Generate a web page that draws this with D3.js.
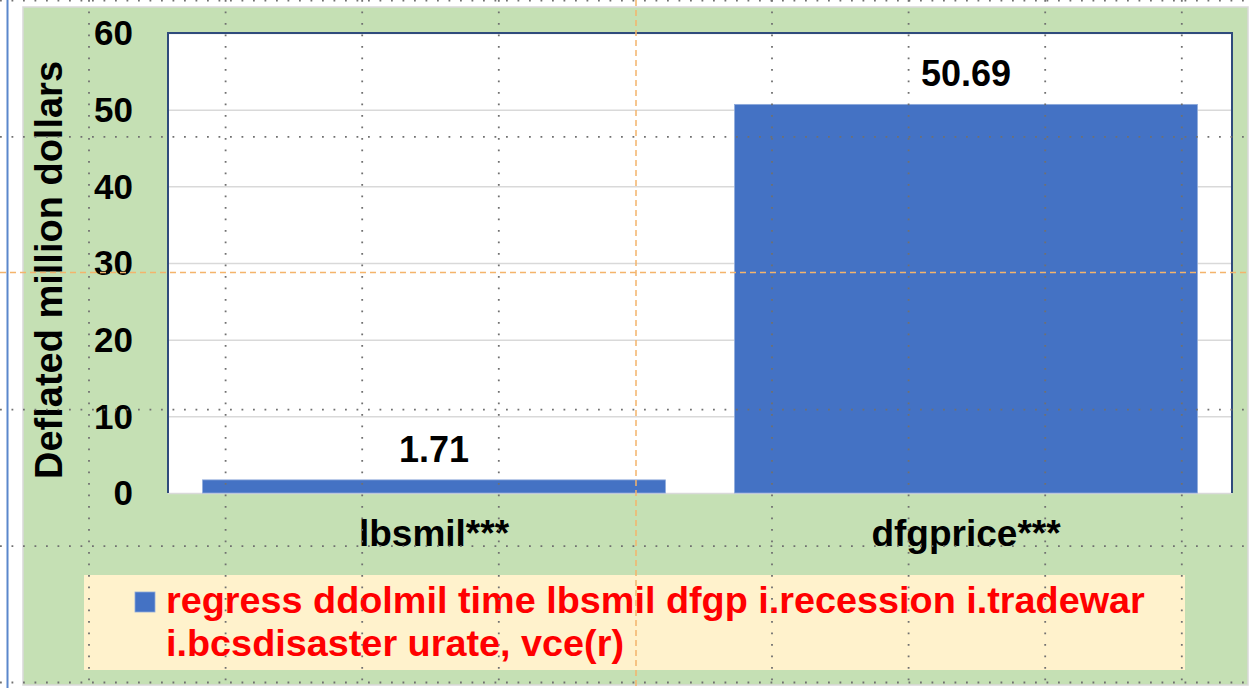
<!DOCTYPE html>
<html>
<head>
<meta charset="utf-8">
<script src="https://cdn.jsdelivr.net/npm/d3@7"></script>
<style>
  html, body { margin: 0; padding: 0; background: #ffffff; }
  svg { display: block; }
  text { font-family: "Liberation Sans", Arial, sans-serif; font-weight: bold; }
</style>
</head>
<body>
<script>
// ---- data ----
const categories = ["lbsmil***", "dfgprice***"];
const values = [1.71, 50.69];
const valueLabels = ["1.71", "50.69"];
const yTicks = [0, 10, 20, 30, 40, 50, 60];
const yTitle = "Deflated million dollars";
const legendLines = ["regress ddolmil time lbsmil dfgp i.recession i.tradewar", "i.bcsdisaster urate, vce(r)"];

// ---- layout ----
const W = 1250, H = 688;
const plot = { left: 168, top: 33, right: 1232, bottom: 493 };

const svg = d3.select("body").append("svg").attr("width", W).attr("height", H);

// outer chart area
svg.append("rect").attr("x", 7).attr("y", 0).attr("width", W - 7).attr("height", H).attr("fill", "#ffffff");
svg.append("line").attr("x1", 7.5).attr("x2", 7.5).attr("y1", 0).attr("y2", H)
  .attr("stroke", "#5b87cc").attr("stroke-width", 2);
svg.append("rect").attr("x", 23).attr("y", 7).attr("width", 1225).attr("height", 678)
  .attr("fill", "#c5e0b4").attr("stroke", "#d9d9d9").attr("stroke-width", 1.5);

// plot area
svg.append("rect").attr("x", plot.left).attr("y", plot.top)
  .attr("width", plot.right - plot.left).attr("height", plot.bottom - plot.top)
  .attr("fill", "#ffffff");

const x = d3.scaleBand().domain(categories).range([plot.left, plot.right]).paddingInner(0.13).paddingOuter(0.065);
const y = d3.scaleLinear().domain([0, 60]).range([plot.bottom, plot.top]);

// gridlines
svg.append("g").selectAll("line").data(yTicks).join("line")
  .attr("x1", plot.left).attr("x2", plot.right)
  .attr("y1", d => y(d) + 0.5).attr("y2", d => y(d) + 0.5)
  .attr("stroke", "#d9d9d9").attr("stroke-width", 1.5);

// bars
svg.append("g").selectAll("rect").data(values).join("rect")
  .attr("x", (d, i) => x(categories[i]))
  .attr("width", x.bandwidth())
  .attr("y", d => y(d))
  .attr("height", d => y(0) - y(d))
  .attr("fill", "#4472c4")
  .attr("stroke", "#8eaadb").attr("stroke-width", 0.8);

// plot border (left, top, right)
svg.append("path")
  .attr("d", `M${plot.left},${plot.bottom}V${plot.top}H${plot.right}V${plot.bottom}`)
  .attr("fill", "none").attr("stroke", "#2f4b7c").attr("stroke-width", 2);

// value labels
svg.append("g").selectAll("text").data(values).join("text")
  .attr("x", (d, i) => x(categories[i]) + x.bandwidth() / 2)
  .attr("y", d => y(d) - 18)
  .attr("text-anchor", "middle")
  .attr("font-size", 36)
  .attr("fill", "#000")
  .text((d, i) => valueLabels[i]);

// y axis
const yAxis = d3.axisLeft(y).tickValues(yTicks).tickSize(0).tickPadding(0).tickFormat(d3.format("d"));
const gy = svg.append("g").attr("transform", `translate(133,0)`).call(yAxis);
gy.select(".domain").remove();
gy.selectAll("text").attr("font-size", 35).attr("fill", "#000")
  .attr("font-family", "Liberation Sans, Arial, sans-serif").attr("font-weight", "bold")
  .attr("dy", "0.34em");

// x axis
const xAxis = d3.axisBottom(x).tickSize(0).tickPadding(0);
const gx = svg.append("g").attr("transform", `translate(0,${plot.bottom})`).call(xAxis);
gx.select(".domain").remove();
gx.selectAll("text").attr("font-size", 37).attr("fill", "#000")
  .attr("font-family", "Liberation Sans, Arial, sans-serif").attr("font-weight", "bold")
  .attr("y", 53).attr("dy", 0);

// y title
svg.append("text")
  .attr("transform", `translate(62,${(62 + 478) / 2}) rotate(-90)`)
  .attr("text-anchor", "middle")
  .attr("font-size", 38)
  .attr("fill", "#000")
  .text(yTitle);

// legend
const lg = svg.append("g");
lg.append("rect").attr("x", 84).attr("y", 575).attr("width", 1101).attr("height", 95).attr("fill", "#fff2cc");
lg.append("rect").attr("x", 135).attr("y", 592).attr("width", 20).attr("height", 20)
  .attr("fill", "#4472c4").attr("stroke", "#8eaadb").attr("stroke-width", 0.8);
lg.selectAll("text.leg").data(legendLines).join("text")
  .attr("class", "leg")
  .attr("x", 166)
  .attr("y", (d, i) => 613 + i * 43)
  .attr("font-size", 37.8)
  .attr("fill", "#ff0000")
  .text(d => d);

// overlay guide grid (dotted) seen on top of the picture
const gridXs = d3.range(9).map(i => 89 + i * 136.6);
const gridYs = d3.range(6).map(i => 0.5 + i * 136.4);
const ov = svg.append("g");
gridXs.forEach((gxp, i) => {
  if (i === 4) return;
  ov.append("line").attr("x1", gxp).attr("x2", gxp).attr("y1", 0).attr("y2", H)
    .attr("stroke", "#707070").attr("stroke-width", 1.8).attr("stroke-dasharray", "1.8,9.7");
});
gridYs.forEach((gyp, i) => {
  if (i === 2) return;
  ov.append("line").attr("x1", 0).attr("x2", W).attr("y1", gyp).attr("y2", gyp)
    .attr("stroke", "#707070").attr("stroke-width", 1.8).attr("stroke-dasharray", "1.8,9.7");
});
// orange centre guides
ov.append("line").attr("x1", 636).attr("x2", 636).attr("y1", 0).attr("y2", H)
  .attr("stroke", "#f4b46b").attr("stroke-width", 1.5).attr("stroke-dasharray", "6,4");
ov.append("line").attr("x1", 0).attr("x2", W).attr("y1", 272.5).attr("y2", 272.5)
  .attr("stroke", "#f4b46b").attr("stroke-width", 1.5).attr("stroke-dasharray", "6,4");
</script>
</body>
</html>
